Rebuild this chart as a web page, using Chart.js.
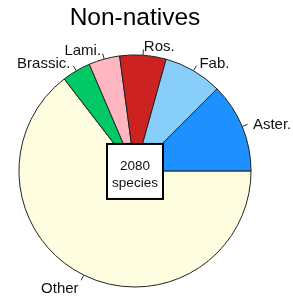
<!DOCTYPE html>
<html>
<head>
<meta charset="utf-8">
<script src="https://cdn.jsdelivr.net/npm/chart.js@4/dist/chart.umd.min.js"></script>
<style>
  body { margin: 0; background: #fff; }
  #wrap { position: relative; width: 293px; height: 301px; }
</style>
</head>
<body>
<div id="wrap"><canvas id="pie" width="293" height="301"></canvas></div>
<script>
// slices, drawn clockwise from 3 o'clock (so they read counter-clockwise in the original order)
const families = ['Other', 'Brassic.', 'Lami.', 'Ros.', 'Fab.', 'Aster.'];
const counts = [1343, 83, 90, 134, 170, 260];
const sliceColors = ['#FFFDE0', '#00C864', '#FFB6C1', '#CC2222', '#87CEFA', '#1E90FF'];
const totalText = ['2080', 'species'];

// R style labels: small tick out of the arc, text at 1.1 * radius
const pieLabels = {
  id: 'pieLabels',
  afterDatasetsDraw(chart) {
    const ctx = chart.ctx;
    const arcs = chart.getDatasetMeta(0).data;
    ctx.save();
    ctx.font = '15px "Liberation Sans", Arial, sans-serif';
    ctx.textBaseline = 'middle';
    arcs.forEach((arc, i) => {
      const p = arc.getProps(['x', 'y', 'startAngle', 'endAngle', 'outerRadius'], true);
      const mid = (p.startAngle + p.endAngle) / 2;
      const c = Math.cos(mid), s = Math.sin(mid);
      const r = p.outerRadius;
      ctx.strokeStyle = '#333';
      ctx.lineWidth = 1;
      ctx.beginPath();
      ctx.moveTo(p.x + c * r, p.y + s * r);
      ctx.lineTo(p.x + c * r * 1.05, p.y + s * r * 1.05);
      ctx.stroke();
      ctx.fillStyle = '#111';
      ctx.textAlign = c < 0 ? 'right' : 'left';
      ctx.fillText(families[i], p.x + c * r * 1.1, p.y + s * r * 1.1 + 3);
    });

    // box with the total in the middle
    const cx = arcs[0].x, cy = arcs[0].y;
    ctx.fillStyle = '#fff';
    ctx.fillRect(cx - 28, cy - 27, 56, 55);
    ctx.strokeStyle = '#000';
    ctx.lineWidth = 2;
    ctx.strokeRect(cx - 28, cy - 27, 56, 55);
    ctx.fillStyle = '#111';
    ctx.textAlign = 'center';
    ctx.font = '13.5px "Liberation Sans", Arial, sans-serif';
    ctx.fillText(totalText[0], cx, cy - 5);
    ctx.fillText(totalText[1], cx, cy + 12);
    ctx.restore();
  }
};

new Chart(document.getElementById('pie').getContext('2d'), {
  type: 'pie',
  data: {
    labels: families,
    datasets: [{
      data: counts,
      backgroundColor: sliceColors,
      borderColor: '#222',
      borderWidth: 1,
      hoverOffset: 0
    }]
  },
  options: {
    responsive: false,
    animation: false,
    rotation: 90,
    layout: { padding: { left: 0, right: 23, top: 0, bottom: 13.5 } },
    plugins: {
      legend: { display: false },
      tooltip: { enabled: false },
      title: {
        display: true,
        text: 'Non-natives',
        color: '#000',
        font: { family: '"Liberation Sans", Arial, sans-serif', size: 24.5, weight: 'normal', lineHeight: 1.2 },
        padding: { top: 4, bottom: 21 }
      }
    }
  },
  plugins: [pieLabels]
});
</script>
</body>
</html>
